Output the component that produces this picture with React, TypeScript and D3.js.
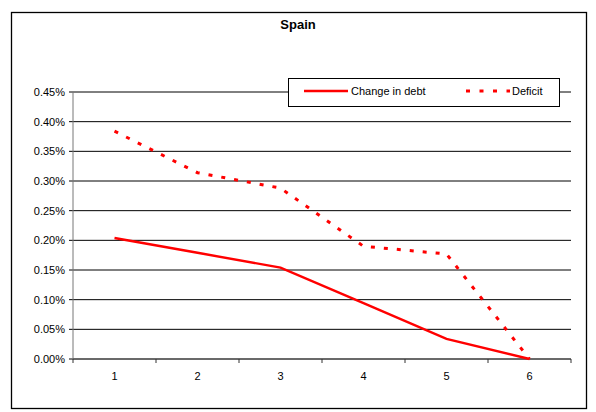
import React from "react";
import * as d3 from "d3";

const categories = ["1", "2", "3", "4", "5", "6"];
const changeInDebt = [0.204, 0.179, 0.154, 0.094, 0.034, 0.0];
const deficit = [0.384, 0.314, 0.288, 0.19, 0.177, 0.0];
const yTicks = [0, 0.05, 0.1, 0.15, 0.2, 0.25, 0.3, 0.35, 0.4, 0.45];

const W = 596;
const H = 412;
const left = 73;
const right = 571;
const top = 92;
const bottom = 359;
const font = "Liberation Sans, Arial, sans-serif";

export default function App() {
  const x = d3.scaleBand<string>().domain(categories).range([left, right]);
  const y = d3.scaleLinear().domain([0, 0.45]).range([bottom, top]);
  const line = d3
    .line<number>()
    .x((_, i) => (x(categories[i]) as number) + x.bandwidth() / 2)
    .y((d) => y(d));
  const boundaries = d3.range(categories.length + 1).map((i) => left + i * x.bandwidth());

  return (
    <svg width={W} height={H} style={{ position: "absolute", left: 0, top: 0 }}>
      <rect x={0} y={0} width={W} height={H} fill="#fff" />
      <rect x={11.5} y={12.5} width={575} height={396} fill="none" stroke="#000" strokeWidth={1.3} />
      <text x={298} y={29} textAnchor="middle" fontFamily={font} fontWeight="bold" fontSize={13}>
        Spain
      </text>
      {yTicks.map((t) => (
        <g key={t}>
          <line x1={left} x2={right} y1={y(t)} y2={y(t)} stroke="#000" strokeWidth={1} />
          <line x1={left - 4} x2={left} y1={y(t)} y2={y(t)} stroke="#000" />
          <text x={65} y={y(t) + 4} textAnchor="end" fontFamily={font} fontSize={11}>
            {d3.format(".2%")(t / 100)}
          </text>
        </g>
      ))}
      <line x1={left} x2={left} y1={top} y2={bottom} stroke="#777" strokeWidth={1} />
      <line x1={left} x2={right} y1={bottom} y2={bottom} stroke="#555" strokeWidth={1.2} />
      {boundaries.map((b, i) => (
        <line key={i} x1={b} x2={b} y1={bottom} y2={bottom + 4} stroke="#333" />
      ))}
      {categories.map((c) => (
        <text
          key={c}
          x={(x(c) as number) + x.bandwidth() / 2}
          y={bottom + 21}
          textAnchor="middle"
          fontFamily={font}
          fontSize={11}
        >
          {c}
        </text>
      ))}
      <path d={line(deficit) || ""} fill="none" stroke="#ff0000" strokeWidth={3} strokeDasharray="4,9" />
      <path d={line(changeInDebt) || ""} fill="none" stroke="#ff0000" strokeWidth={2.4} />
      <rect x={288.5} y={78.5} width={271} height={28} fill="#fff" stroke="#000" strokeWidth={1} />
      <line x1={304} x2={348} y1={91} y2={91} stroke="#ff0000" strokeWidth={2.4} />
      <text x={351} y={95} fontFamily={font} fontSize={11}>
        Change in debt
      </text>
      <line x1={466} x2={510} y1={91} y2={91} stroke="#ff0000" strokeWidth={3} strokeDasharray="4,9.5" />
      <text x={512} y={95} fontFamily={font} fontSize={11}>
        Deficit
      </text>
    </svg>
  );
}
